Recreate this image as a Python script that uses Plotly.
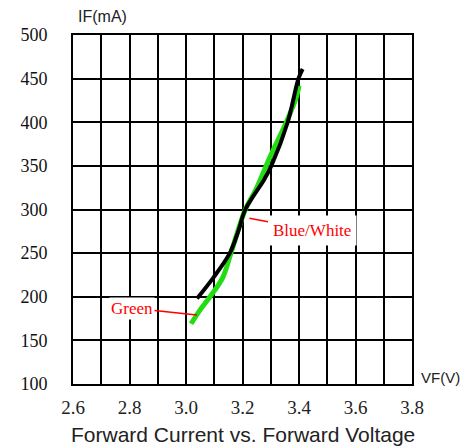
import plotly.graph_objects as go

# Data
vf_blue_white = [3.039, 3.097, 3.155, 3.185, 3.21, 3.278, 3.302, 3.36, 3.398, 3.413]
if_blue_white = [198, 222, 250, 275, 300, 335, 350, 400, 450, 461]

vf_green = [3.018, 3.05, 3.085, 3.13, 3.159, 3.21, 3.246, 3.30, 3.355, 3.39, 3.40]
if_green = [169, 185, 200, 222, 250, 300, 322, 362, 400, 428, 442]

x_tick_vals = [2.6, 2.7, 2.8, 2.9, 3.0, 3.1, 3.2, 3.3, 3.4, 3.5, 3.6, 3.7, 3.8]
x_tick_text = ["2.6", "", "2.8", "", "3.0", "", "3.2", "", "3.4", "", "3.6", "", "3.8"]
y_tick_vals = [100, 150, 200, 250, 300, 350, 400, 450, 500]
y_tick_text = ["100", "150", "200", "250", "300", "350", "400", "450", "500"]

series_names = ["Green", "Blue/White"]
title_text = "Forward Current vs. Forward Voltage"
x_label = "VF(V)"
y_label = "IF(mA)"

fig = go.Figure()
fig.add_trace(go.Scatter(x=vf_green, y=if_green, mode="lines", name=series_names[0],
                         line=dict(color="#22dd11", width=5, shape="spline", smoothing=1.0)))
fig.add_trace(go.Scatter(x=vf_blue_white, y=if_blue_white, mode="lines", name=series_names[1],
                         line=dict(color="black", width=4, shape="spline", smoothing=1.0)))

fig.update_layout(
    width=460, height=440,
    margin=dict(l=62, r=56, t=27, b=64),
    paper_bgcolor="white", plot_bgcolor="white",
    showlegend=False,
    xaxis=dict(range=[2.6, 3.8], tickvals=x_tick_vals, ticktext=x_tick_text,
               showgrid=True, gridcolor="black", gridwidth=2, zeroline=False,
               showline=True, linecolor="black", linewidth=2, mirror=True,
               ticks="outside", ticklen=5, tickcolor="rgba(0,0,0,0)",
               tickfont=dict(family="Liberation Serif", size=19, color="#222")),
    yaxis=dict(range=[100, 500], tickvals=y_tick_vals, ticktext=y_tick_text,
               showgrid=True, gridcolor="black", gridwidth=2, zeroline=False,
               showline=True, linecolor="black", linewidth=2, mirror=True,
               ticks="outside", ticklen=20, tickcolor="rgba(0,0,0,0)",
               tickfont=dict(family="Liberation Serif", size=18, color="#111"),
               tickprefix="<b>", ticksuffix="</b>"),
    annotations=[
        dict(x=3.039, y=179, xref="x", yref="y", text=series_names[0],
             showarrow=True, arrowhead=0, arrowwidth=1.5, arrowcolor="red",
             ax=-65, ay=-7, standoff=0, bgcolor="white", borderpad=1,
             font=dict(family="Liberation Serif", size=17, color="red")),
        dict(x=3.2246, y=290, xref="x", yref="y", text=series_names[1],
             showarrow=True, arrowhead=0, arrowwidth=1.5, arrowcolor="red",
             ax=63, ay=12, standoff=0, bgcolor="white", borderpad=5,
             font=dict(family="Liberation Serif", size=17, color="red")),
        dict(x=0.088, y=1.052, xref="paper", yref="paper", text=y_label,
             showarrow=False, xanchor="center", yanchor="middle",
             font=dict(family="Liberation Sans", size=16, color="#222")),
        dict(x=1.083, y=0.02, xref="paper", yref="paper", text=x_label,
             showarrow=False, xanchor="center", yanchor="middle",
             font=dict(family="Liberation Sans", size=15, color="#222")),
        dict(x=0.5, y=-0.146, xref="paper", yref="paper", text=title_text,
             showarrow=False, xanchor="center", yanchor="middle",
             font=dict(family="Liberation Sans", size=21, color="#222")),
    ],
)

fig.write_html("out.html")
